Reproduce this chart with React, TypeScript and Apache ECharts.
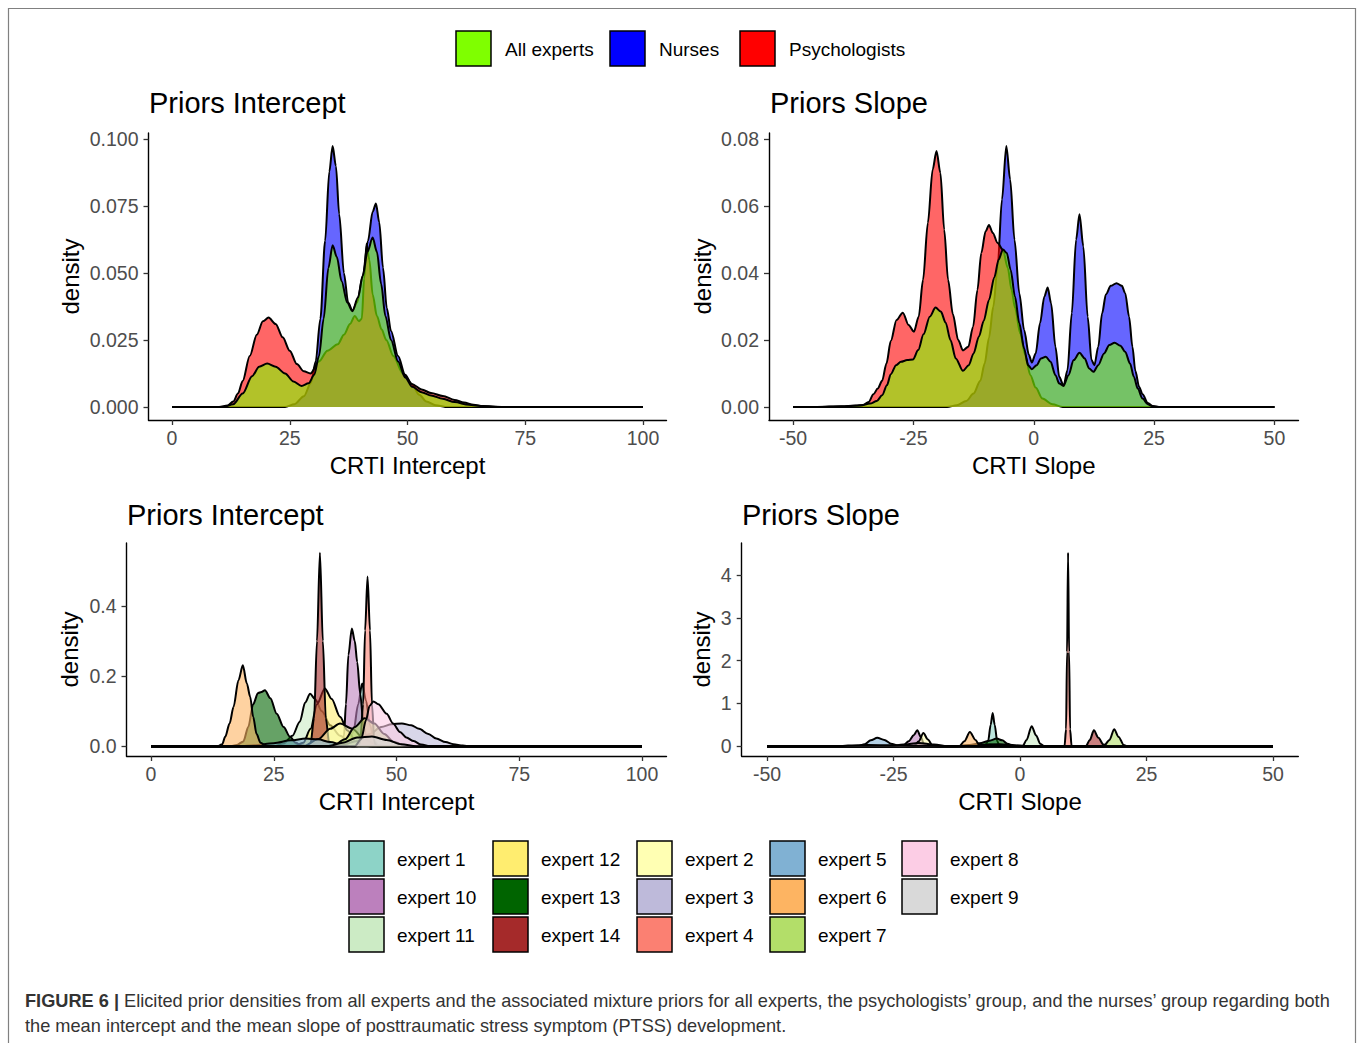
import React, { useEffect, useRef } from "react";
import * as echarts from "echarts";

// ---------- Tick labels / categories ----------
const interceptTicks = [0, 25, 50, 75, 100];
const slopeTicks = [-50, -25, 0, 25, 50];
const interceptDensityTicks = [0, 0.025, 0.05, 0.075, 0.1];
const slopeDensityTicks = [0, 0.02, 0.04, 0.06, 0.08];
const expertInterceptDensityTicks = [0, 0.2, 0.4];
const expertSlopeDensityTicks = [0, 1, 2, 3, 4];

const groupNames = ["All experts", "Nurses", "Psychologists"];
const groupColors = ["#7FFF00", "#0000FF", "#FF0000"];

const expertNames = [
  "expert 1", "expert 10", "expert 11", "expert 12", "expert 13", "expert 14", "expert 2",
  "expert 3", "expert 4", "expert 5", "expert 6", "expert 7", "expert 8", "expert 9",
];
const expertColors = [
  "#8DD3C7", "#BC80BD", "#CCEBC5", "#FFED6F", "#006400", "#A52A2A", "#FFFFB3",
  "#BEBADA", "#FB8072", "#80B1D3", "#FDB462", "#B3DE69", "#FCCDE5", "#D9D9D9",
];

// ---------- Mixture priors: intercept ----------
const nursesIntercept = [
  [0, 0], [24, 0], [26, 0.001], [28, 0.004], [29.5, 0.009], [30.5, 0.017], [31.5, 0.033], [32.5, 0.062],
  [33.4, 0.088], [34.1, 0.0975], [34.8, 0.09], [35.5, 0.072], [36.5, 0.05], [37.4, 0.039], [38.3, 0.036],
  [39.3, 0.039], [40.5, 0.049], [41.6, 0.062], [42.6, 0.073], [43.3, 0.076], [44, 0.069], [44.8, 0.052],
  [45.6, 0.037], [46.5, 0.0284], [48, 0.019], [49.5, 0.012], [50.9, 0.0085], [52.5, 0.0045], [54, 0.002],
  [56, 0.0006], [58, 0], [100, 0],
];
const psychIntercept = [
  [0, 0], [10, 0], [11.8, 0.0005], [13, 0.002], [14, 0.005], [15, 0.0097], [16.5, 0.019], [18, 0.027],
  [19.3, 0.032], [20.5, 0.0334], [22, 0.031], [23.5, 0.026], [25, 0.021], [26.5, 0.016], [28, 0.0133],
  [29.4, 0.0125], [31.2, 0.017], [33, 0.021], [35.2, 0.0234], [36.5, 0.027], [37.8, 0.031], [38.8, 0.034],
  [39.7, 0.032], [40.3, 0.033], [40.8, 0.048], [41.3, 0.061], [41.9, 0.055], [42.6, 0.042], [43.5, 0.034],
  [44.5, 0.029], [45.5, 0.025], [47, 0.019], [49, 0.0125], [51, 0.0085], [53, 0.0065], [55, 0.0052],
  [57.5, 0.0041], [60, 0.0026], [62, 0.0016], [64, 0.0008], [66, 0.0003], [70, 0], [100, 0],
];
const allIntercept = [
  [0, 0], [11, 0], [13, 0.001], [15, 0.005], [17, 0.0115], [18.5, 0.015], [20.2, 0.0162], [22, 0.015],
  [24, 0.0125], [25.8, 0.0095], [27.5, 0.0078], [29, 0.0088], [30.2, 0.012], [31.2, 0.019], [32.2, 0.033],
  [33.2, 0.052], [34.1, 0.0604], [35, 0.056], [36, 0.047], [37.2, 0.039], [38.3, 0.0358], [39.5, 0.041],
  [40.5, 0.049], [41.5, 0.058], [42.6, 0.0633], [43.5, 0.058], [44.4, 0.046], [45.3, 0.034], [46.5, 0.025],
  [48, 0.017], [49.5, 0.011], [51, 0.0075], [53, 0.0055], [55, 0.0043], [57.5, 0.003], [60, 0.0018],
  [63, 0.0008], [66, 0.0002], [70, 0], [100, 0],
];

// ---------- Mixture priors: slope ----------
const nursesSlope = [
  [-50, 0], [-18, 0], [-16, 0.0005], [-14, 0.0018], [-12.5, 0.004], [-11.1, 0.0078], [-10.2, 0.013],
  [-9.3, 0.0207], [-8.4, 0.03], [-7.5, 0.042], [-6.6, 0.062], [-5.7, 0.078], [-4.9, 0.068], [-4, 0.05],
  [-3, 0.034], [-2, 0.023], [-1, 0.0155], [-0.4, 0.0133], [0.4, 0.016], [1.3, 0.025], [2.2, 0.033],
  [2.9, 0.0357], [3.6, 0.031], [4.5, 0.018], [5.3, 0.009], [6.2, 0.0063], [7, 0.011], [7.9, 0.028],
  [8.8, 0.05], [9.5, 0.0576], [10.3, 0.048], [11.2, 0.027], [12, 0.014], [12.6, 0.0125], [13.4, 0.018],
  [14.2, 0.028], [15, 0.0337], [16, 0.0362], [17.2, 0.037], [18.3, 0.0362], [19, 0.034], [19.8, 0.027],
  [20.5, 0.018], [21.1, 0.0108], [21.9, 0.006], [22.6, 0.0038], [23.7, 0.0012], [24.7, 0.0003], [26, 0],
  [50, 0],
];
const psychSlope = [
  [-50, 0], [-45, 0], [-40, 0.0002], [-37, 0.0004], [-35.5, 0.0006], [-34.3, 0.0015], [-33.3, 0.0038],
  [-32.4, 0.0055], [-31.5, 0.0078], [-30.6, 0.013], [-29.7, 0.0197], [-28.5, 0.026], [-27.2, 0.0282],
  [-26, 0.0245], [-24.9, 0.0225], [-23.9, 0.027], [-23, 0.038], [-22, 0.055], [-21, 0.071], [-20.2, 0.0765],
  [-19.4, 0.07], [-18.6, 0.053], [-17.8, 0.038], [-16.8, 0.0277], [-15.7, 0.02], [-14.7, 0.0169],
  [-13.6, 0.018], [-12.6, 0.024], [-11.7, 0.035], [-10.9, 0.046], [-10, 0.0525], [-9.3, 0.0544],
  [-8.5, 0.052], [-7.5, 0.049], [-6.4, 0.047], [-5.4, 0.0416], [-4.6, 0.035], [-3.9, 0.0297], [-2.8, 0.022],
  [-1.8, 0.0157], [-0.7, 0.0095], [0.4, 0.0058], [1.8, 0.0025], [3.9, 0.0008], [6, 0], [50, 0],
];
const allSlope = [
  [-50, 0], [-45, 0], [-40, 0.0001], [-36, 0.0004], [-34, 0.001], [-32.6, 0.0018], [-31.5, 0.0035],
  [-30.5, 0.0065], [-29.7, 0.0098], [-28.6, 0.0125], [-27.6, 0.0135], [-26.3, 0.014], [-25.1, 0.0142],
  [-24, 0.017], [-22.9, 0.0217], [-21.6, 0.027], [-20.4, 0.0297], [-19.3, 0.0285], [-18.3, 0.0252],
  [-17.3, 0.02], [-16.2, 0.0145], [-14.7, 0.0108], [-13.5, 0.0125], [-12.5, 0.016], [-11.4, 0.021],
  [-10.4, 0.0257], [-9.3, 0.032], [-8.2, 0.0387], [-7.3, 0.044], [-6.4, 0.0471], [-5.6, 0.046],
  [-4.8, 0.041], [-3.9, 0.033], [-3, 0.025], [-2, 0.0175], [-1.2, 0.0125], [-0.4, 0.0113], [0.6, 0.0125],
  [1.5, 0.0145], [2.5, 0.015], [3.5, 0.0135], [4.5, 0.0095], [5.3, 0.007], [6.2, 0.0063], [7.2, 0.0095],
  [8.3, 0.014], [9.5, 0.0162], [10.6, 0.0145], [11.5, 0.0115], [12.4, 0.0105], [13.4, 0.0125],
  [14.6, 0.016], [15.7, 0.0185], [16.8, 0.0192], [18, 0.0183], [19, 0.0165], [20, 0.013], [20.8, 0.009],
  [21.6, 0.0055], [22.6, 0.0025], [23.7, 0.0008], [24.7, 0.0002], [26, 0], [50, 0],
];

// ---------- Individual expert priors: intercept ----------
const e1Intercept = [[0, 0], [40, 0], [41.2, 0.04], [42.2, 0.12], [43, 0.179], [43.8, 0.13], [44.6, 0.06], [45.5, 0.015], [46.5, 0], [100, 0]];
const e10Intercept = [[0, 0], [38, 0], [38.8, 0.005], [39.3, 0.03], [39.7, 0.12], [40.2, 0.26], [40.9, 0.336], [41.5, 0.3], [42, 0.24], [42.6, 0.15], [43.3, 0.06], [44, 0.017], [45, 0], [100, 0]];
const e11Intercept = [[0, 0], [25, 0], [27, 0.008], [28.8, 0.03], [30.3, 0.07], [31.4, 0.125], [32.4, 0.15], [33.4, 0.135], [34.8, 0.1], [36.5, 0.06], [38.5, 0.03], [40.5, 0.012], [43, 0.002], [45, 0], [100, 0]];
const e12Intercept = [[0, 0], [29, 0], [31, 0.01], [32.5, 0.05], [33.8, 0.12], [35.4, 0.165], [36.8, 0.135], [38.5, 0.084], [40, 0.045], [41.8, 0.012], [43.5, 0.002], [45, 0], [100, 0]];
const e13Intercept = [[0, 0], [16, 0], [17.5, 0.004], [18.8, 0.014], [19.8, 0.055], [20.8, 0.12], [21.8, 0.152], [22.5, 0.155], [23.2, 0.16], [24.3, 0.137], [25.6, 0.093], [27, 0.055], [28.3, 0.027], [29.5, 0.01], [30.5, 0.003], [32, 0], [100, 0]];
const e14Intercept = [[0, 0], [31.5, 0], [32.5, 0.008], [33.2, 0.08], [33.8, 0.3], [34.4, 0.552], [35, 0.3], [35.6, 0.08], [36.3, 0.008], [37, 0], [100, 0]];
const e2Intercept = [[0, 0], [31, 0], [34, 0.02], [36.5, 0.05], [38.5, 0.065], [41, 0.05], [43.5, 0.02], [46, 0.004], [48, 0], [100, 0]];
const e3Intercept = [[0, 0], [36, 0], [39, 0.005], [42, 0.015], [44.5, 0.035], [46.9, 0.055], [49, 0.063], [51.1, 0.065], [53, 0.06], [54.6, 0.05], [56.5, 0.035], [58.1, 0.022], [60, 0.012], [61.6, 0.006], [63.5, 0.002], [65, 0], [100, 0]];
const e4Intercept = [[0, 0], [42, 0], [42.6, 0.01], [43.2, 0.12], [43.6, 0.33], [44.1, 0.484], [44.6, 0.33], [45, 0.12], [45.5, 0.01], [46, 0], [100, 0]];
const e5Intercept = [[0, 0], [18, 0], [21, 0.003], [25, 0.009], [28.5, 0.017], [31.5, 0.022], [34, 0.02], [36.5, 0.012], [39, 0.004], [41, 0], [100, 0]];
const e6Intercept = [[0, 0], [13.5, 0], [14.5, 0.006], [15.1, 0.027], [16, 0.065], [16.8, 0.112], [17.8, 0.188], [18.7, 0.231], [19.5, 0.18], [20.2, 0.141], [20.8, 0.084], [21.5, 0.035], [22.3, 0.01], [23.5, 0], [100, 0]];
const e7Intercept = [[0, 0], [37, 0], [39.5, 0.02], [41.5, 0.055], [43.5, 0.08], [45.5, 0.065], [47.5, 0.035], [49.5, 0.012], [52, 0], [100, 0]];
const e8Intercept = [[0, 0], [41.5, 0], [42.8, 0.02], [43.8, 0.075], [44.5, 0.115], [45.3, 0.128], [46.3, 0.12], [48, 0.093], [49.3, 0.065], [50.7, 0.041], [52, 0.025], [53.5, 0.015], [55, 0.005], [57, 0], [100, 0]];
const e9Intercept = [[0, 0], [36, 0], [39, 0.01], [42, 0.025], [45, 0.028], [48, 0.018], [51, 0.006], [54, 0], [100, 0]];

// ---------- Individual expert priors: slope ----------
const e1Slope = [[-50, 0], [-7, 0], [-6.3, 0.12], [-5.8, 0.5], [-5.4, 0.78], [-5, 0.5], [-4.5, 0.12], [-4, 0], [50, 0]];
const e10Slope = [[-50, 0], [-24, 0], [-23, 0.03], [-22, 0.12], [-21, 0.26], [-20.3, 0.374], [-19.6, 0.22], [-19, 0.06], [-18.4, 0], [50, 0]];
const e11Slope = [[-50, 0], [0.5, 0], [1.3, 0.15], [2.3, 0.47], [3.2, 0.25], [4, 0.06], [4.8, 0], [50, 0]];
const e12Slope = [[-50, 0], [-14, 0], [-10, 0.02], [-6, 0.04], [-2, 0.02], [1, 0], [50, 0]];
const e13Slope = [[-50, 0], [-13, 0], [-10, 0.03], [-8, 0.07], [-6, 0.13], [-4.6, 0.18], [-3.5, 0.14], [-2.5, 0.06], [-1.5, 0.015], [0, 0], [50, 0]];
const e14Slope = [[-50, 0], [13, 0], [13.8, 0.15], [14.6, 0.374], [15.5, 0.2], [16.5, 0.04], [17.5, 0], [50, 0]];
const e2Slope = [[-50, 0], [-21, 0], [-20, 0.12], [-19.1, 0.31], [-18.2, 0.16], [-17.3, 0.02], [-16.5, 0], [50, 0]];
const e3Slope = [[-50, 0], [-12, 0], [-8, 0.03], [-4, 0.05], [0, 0.02], [2, 0], [50, 0]];
const e4Slope = [[-50, 0], [8.8, 0], [9.1, 0.4], [9.3, 2.2], [9.5, 4.52], [9.7, 2.2], [9.9, 0.4], [10.2, 0], [50, 0]];
const e5Slope = [[-50, 0], [-32, 0], [-30.7, 0.05], [-29.5, 0.14], [-28.2, 0.2], [-26.8, 0.15], [-25.5, 0.06], [-24, 0.015], [-22, 0], [50, 0]];
const e6Slope = [[-50, 0], [-12, 0], [-11, 0.12], [-9.9, 0.335], [-8.8, 0.15], [-8, 0.02], [-7.5, 0], [50, 0]];
const e7Slope = [[-50, 0], [16.5, 0], [17.7, 0.15], [18.6, 0.4], [19.5, 0.22], [20.5, 0.03], [21.2, 0], [50, 0]];
const e8Slope = [[-50, 0], [-26, 0], [-23, 0.04], [-20, 0.08], [-17, 0.04], [-14, 0], [50, 0]];
const e9Slope = [[-50, 0], [-36, 0], [-34, 0.02], [-30, 0.03], [-25, 0.025], [-20, 0.015], [-15, 0.01], [-10, 0.005], [-7, 0], [50, 0]];

const expertIntercepts = [
  e1Intercept, e10Intercept, e11Intercept, e12Intercept, e13Intercept, e14Intercept, e2Intercept,
  e3Intercept, e4Intercept, e5Intercept, e6Intercept, e7Intercept, e8Intercept, e9Intercept,
];
const expertSlopes = [
  e1Slope, e10Slope, e11Slope, e12Slope, e13Slope, e14Slope, e2Slope,
  e3Slope, e4Slope, e5Slope, e6Slope, e7Slope, e8Slope, e9Slope,
];

const captionBold = "FIGURE 6 |";
const captionLine1 =
  " Elicited prior densities from all experts and the associated mixture priors for all experts, the psychologists’ group, and the nurses’ group regarding both";
const captionLine2 =
  "the mean intercept and the mean slope of posttraumatic stress symptom (PTSS) development.";

const FONT = '"Liberation Sans", Arial, Helvetica, sans-serif';

function makeX(gi: number, min: number, max: number, ticks: number[], name: string) {
  return {
    type: "value", gridIndex: gi, min, max,
    axisLine: { onZero: false, lineStyle: { color: "#000", width: 1.4 } },
    axisTick: { show: true, length: 5, customValues: ticks, lineStyle: { color: "#333", width: 1.3 } },
    axisLabel: { customValues: ticks, formatter: (v: number) => String(v), color: "#4D4D4D", fontSize: 19.5, fontFamily: FONT, margin: 8 },
    splitLine: { show: false },
    name, nameLocation: "middle", nameGap: 33,
    nameTextStyle: { fontSize: 24, color: "#000", fontFamily: FONT },
  };
}
function makeY(gi: number, min: number, max: number, ticks: number[], digits: number, gap: number) {
  return {
    type: "value", gridIndex: gi, min, max,
    axisLine: { onZero: false, lineStyle: { color: "#000", width: 1.4 } },
    axisTick: { show: true, length: 5, customValues: ticks, lineStyle: { color: "#333", width: 1.3 } },
    axisLabel: { customValues: ticks, formatter: (v: number) => v.toFixed(digits), color: "#4D4D4D", fontSize: 19.5, fontFamily: FONT, margin: 10 },
    splitLine: { show: false },
    name: "density", nameLocation: "middle", nameGap: gap, nameRotate: 90,
    nameTextStyle: { fontSize: 24, color: "#000", fontFamily: FONT },
  };
}
function areaSeries(data: number[][], color: string, idx: number, z: number) {
  return {
    type: "line", xAxisIndex: idx, yAxisIndex: idx, data, symbol: "none", showSymbol: false,
    smooth: 0.3, smoothMonotone: "x", z, silent: true,
    lineStyle: { color: "#000", width: 2 },
    areaStyle: { color, opacity: 0.6 },
  };
}

export default function App() {
  const ref = useRef<HTMLDivElement>(null);
  useEffect(() => {
    if (!ref.current) return;
    const chart = echarts.init(ref.current, null, { renderer: "svg" });

    const series: any[] = [];
    // top panels: Nurses, Psychologists, All experts (All experts drawn on top)
    const order = [1, 2, 0];
    const interceptData = [allIntercept, nursesIntercept, psychIntercept];
    const slopeData = [allSlope, nursesSlope, psychSlope];
    order.forEach((g, k) => series.push(areaSeries(interceptData[g], groupColors[g], 0, 2 + k)));
    order.forEach((g, k) => series.push(areaSeries(slopeData[g], groupColors[g], 1, 2 + k)));
    expertIntercepts.forEach((d, k) => series.push(areaSeries(d, expertColors[k], 2, 2 + k)));
    expertSlopes.forEach((d, k) => series.push(areaSeries(d, expertColors[k], 3, 2 + k)));

    const graphics: any[] = [];
    graphics.push({
      type: "rect", shape: { x: 8.5, y: 8.5, width: 1347, height: 1060 },
      style: { fill: "none", stroke: "#808080", lineWidth: 1.2 }, silent: true,
    });
    // top legend
    const topLegendX = [456, 610, 740];
    [0, 1, 2].forEach((g, k) => {
      graphics.push({
        type: "rect", shape: { x: topLegendX[k], y: 31, width: 35, height: 35 },
        style: { fill: groupColors[g], stroke: "#000", lineWidth: 1.5 },
      });
      graphics.push({
        type: "text", x: topLegendX[k] + 49, y: 49,
        style: { text: groupNames[g], fontSize: 19, fontFamily: FONT, fill: "#000", verticalAlign: "middle", align: "left" },
      });
    });
    // bottom legend (column-major, 3 rows)
    const colX = [349, 493, 637, 770, 902];
    const rowY = [841, 879, 917];
    expertNames.forEach((name, k) => {
      const c = Math.floor(k / 3);
      const r = k % 3;
      graphics.push({
        type: "rect", shape: { x: colX[c], y: rowY[r], width: 35, height: 35 },
        style: { fill: expertColors[k], stroke: "#000", lineWidth: 1.5 },
      });
      graphics.push({
        type: "text", x: colX[c] + 48, y: rowY[r] + 18,
        style: { text: name, fontSize: 19, fontFamily: FONT, fill: "#000", verticalAlign: "middle", align: "left" },
      });
    });
    // caption
    graphics.push({
      type: "text", x: 25, y: 1001,
      style: {
        text: "{b|" + captionBold + "}{n|" + captionLine1 + "}",
        rich: {
          b: { fontSize: 18.2, fontWeight: "bold", fontFamily: FONT, fill: "#333" },
          n: { fontSize: 18.2, fontFamily: FONT, fill: "#333" },
        },
        verticalAlign: "middle", align: "left",
      },
    });
    graphics.push({
      type: "text", x: 25, y: 1026,
      style: { text: captionLine2, fontSize: 18.2, fontFamily: FONT, fill: "#333", verticalAlign: "middle", align: "left" },
    });

    const titleStyle = { fontSize: 29, fontWeight: "normal", color: "#000", fontFamily: FONT };
    chart.setOption({
      animation: false,
      backgroundColor: "#fff",
      title: [
        { text: "Priors Intercept", left: 149, top: 88, padding: 0, textStyle: titleStyle },
        { text: "Priors Slope", left: 770, top: 88, padding: 0, textStyle: titleStyle },
        { text: "Priors Intercept", left: 127, top: 500, padding: 0, textStyle: titleStyle },
        { text: "Priors Slope", left: 742, top: 500, padding: 0, textStyle: titleStyle },
      ],
      grid: [
        { left: 148.5, top: 133, width: 518, height: 287 },
        { left: 769, top: 133, width: 529.5, height: 287 },
        { left: 126.5, top: 543, width: 540, height: 213 },
        { left: 741.7, top: 543, width: 556.6, height: 213 },
      ],
      xAxis: [
        makeX(0, -5, 105, interceptTicks, "CRTI Intercept"),
        makeX(1, -55, 55, slopeTicks, "CRTI Slope"),
        makeX(2, -5, 105, interceptTicks, "CRTI Intercept"),
        makeX(3, -55, 55, slopeTicks, "CRTI Slope"),
      ],
      yAxis: [
        makeY(0, -0.0049, 0.1024, interceptDensityTicks, 3, 66),
        makeY(1, -0.0039, 0.0819, slopeDensityTicks, 2, 55),
        makeY(2, -0.0276, 0.5796, expertInterceptDensityTicks, 1, 45),
        makeY(3, -0.226, 4.746, expertSlopeDensityTicks, 0, 28),
      ],
      series,
      graphic: graphics,
    });
    return () => chart.dispose();
  }, []);
  return (
    <div
      ref={ref}
      style={{ position: "absolute", left: 0, top: 0, width: 1357, height: 1043, background: "#fff" }}
    />
  );
}
